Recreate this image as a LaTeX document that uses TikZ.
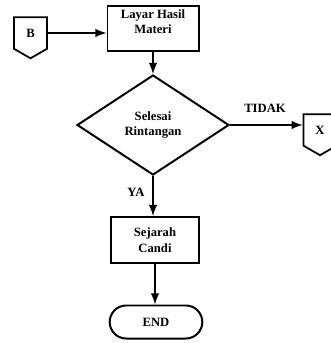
\documentclass[tikz,border=0pt]{standalone}
\usepackage{fontspec}
\setmainfont{Liberation Serif}
\usetikzlibrary{shapes.geometric,shapes.misc,shapes.symbols}

\begin{document}
\begin{tikzpicture}[x=0.3mm,y=-0.3mm,
  font=\fontsize{10.8}{13.5}\selectfont\bfseries,
  proses/.style={draw,line width=1.7pt,align=center,inner sep=1pt},
  konektor/.style={draw,line width=1.5pt,signal,signal to=south,signal pointer angle=120,
    minimum width=9.9mm,minimum height=10.2mm,inner sep=0pt},
  panah/.style={->,>=latex,line width=2.2pt}]

\useasboundingbox (0,0) rectangle (330,343);

\node[konektor] (b) at (30.5,33) {B};

\node[proses,minimum width=27.3mm,minimum height=13.5mm,anchor=north,text depth=0pt] (hasil) at (153,5)
  {\raisebox{4mm}{\shortstack{Layar Hasil\\Materi}}};

\node[proses,diamond,minimum width=45.6mm,minimum height=30mm] (selesai) at (153,125)
  {Selesai\\Rintangan};

\node[konektor] (x) at (320,130) {X};

\node (tidak) at (265,108) {TIDAK};

\node (ya) at (136,192) {YA};

\node[proses,minimum width=26.4mm,minimum height=13.8mm] (sejarah) at (155,240)
  {Sejarah\\Candi};

\node[proses,rounded rectangle,minimum width=28.5mm,minimum height=9.9mm] (end) at (156,322)
  {END};


\draw[panah] (b.east) -- (b.east -| hasil.west);
\draw[panah] (hasil.south) -- (hasil.south |- selesai.north);
\draw[panah] (selesai.east) -- (selesai.east -| x.west);
\draw[panah] (selesai.south) -- (selesai.south |- sejarah.north);
\draw[panah] (sejarah.south) -- (sejarah.south |- end.north);

\end{tikzpicture}
\end{document}
